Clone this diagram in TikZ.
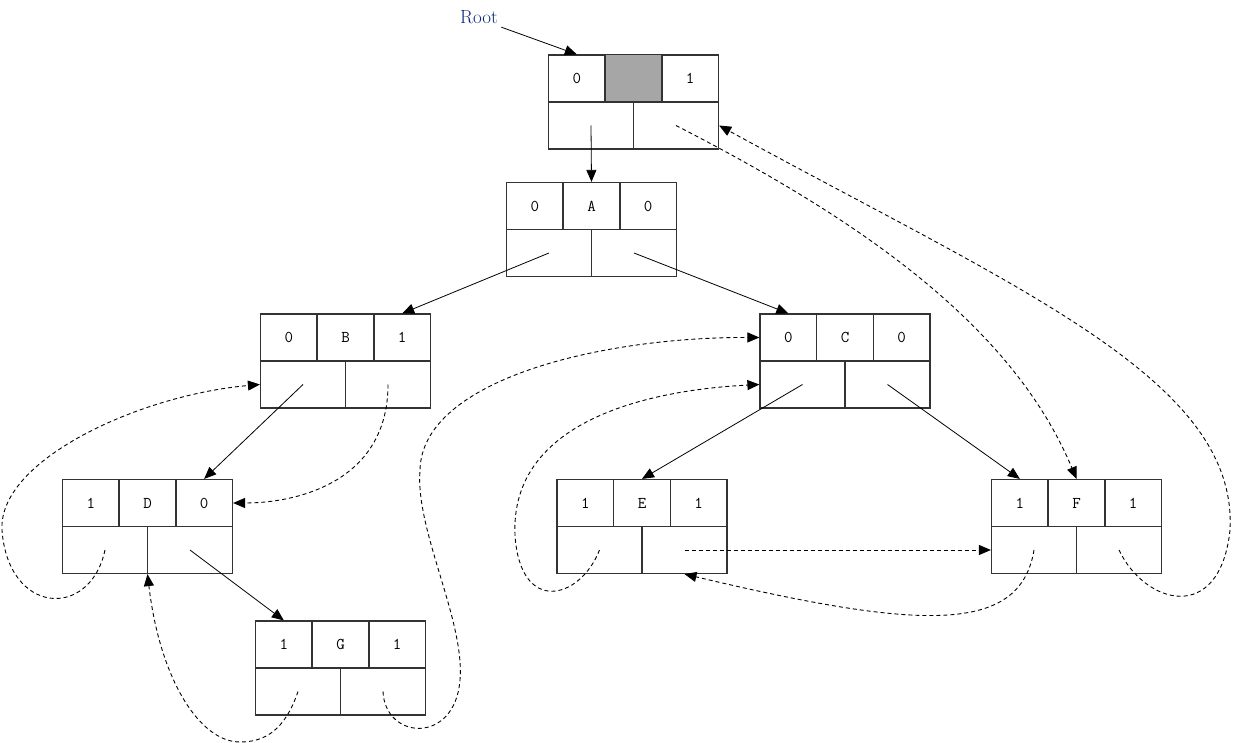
\documentclass[tikz,border=0pt]{standalone}
\usetikzlibrary{arrows.meta, calc}
\definecolor{rootblue}{RGB}{10,40,120}
\definecolor{shade}{HTML}{A6A6A6}
\tikzset{
    tbox/.style={draw=black!80, line width=1.2pt, rectangle, minimum width=170pt, minimum height=94pt, inner sep=0pt},
    cell/.style={draw=black!80, line width=1.2pt},
    tag/.style={font=\fontsize{16.5}{19}\selectfont\ttfamily},
    link/.style={-{Triangle[length=12pt,width=10pt]}, line width=0.8pt},
    thread/.style={link, line width=0.9pt, dash pattern=on 4pt off 3pt}
}
% threaded node: name, x, y, left tag, data, right tag
\newcommand{\tnode}[6]{%
  \node[tbox] (#1) at (#2,#3) {};
  \draw[cell] (#1.west) -- (#1.east)
    ($(#1.north west)!1/3!(#1.north east)$) -- ($(#1.west)!1/3!(#1.east)$)
    ($(#1.north west)!2/3!(#1.north east)$) -- ($(#1.west)!2/3!(#1.east)$)
    (#1.center) -- (#1.south);
  \node[tag] (#1-lt) at ($(#1)+(-56.67,-23.5)$) {#4};
  \node[tag] (#1-d) at ($(#1)+(0,-23.5)$) {#5};
  \node[tag] (#1-rt) at ($(#1)+(56.67,-23.5)$) {#6};
  \coordinate (#1-l) at ($(#1)+(-42.5,23.5)$);
  \coordinate (#1-r) at ($(#1)+(42.5,23.5)$);
}

\begin{document}
\begin{tikzpicture}[x=1pt, y=-1pt]
    \useasboundingbox (0,0) rectangle (1236,743);

    % head node
    \tnode{R}{633.5}{102}{0}{}{1}
    \filldraw[cell, fill=shade] ($(R.north west)!1/3!(R.north east)$) rectangle ($(R.west)!2/3!(R.east)$);
    \node[text=rootblue, font=\fontsize{19}{22}\selectfont] (rootlbl) at (479,17) {Root};

    \tnode{A}{591.5}{229.5}{0}{A}{0}
    \tnode{B}{345.5}{361}{0}{B}{1}
    \tnode{C}{845}{361}{0}{C}{0}
    \tnode{D}{147.5}{526.5}{1}{D}{0}
    \tnode{E}{642}{526.5}{1}{E}{1}
    \tnode{F}{1076.5}{526.5}{1}{F}{1}
    \tnode{G}{340.5}{668}{1}{G}{1}

    % child links
    \draw[link] (rootlbl.south east) -- (R-lt |- R.north);
    \draw[link] (R-l) -- (A.north);
    \draw[link] (A-l) -- (B-rt |- B.north);
    \draw[link] (A-r) -- (C-lt |- C.north);
    \draw[link] (B-l) -- (D-rt |- D.north);
    \draw[link] (C-l) -- (E.north);
    \draw[link] (C-r) -- (F-lt |- F.north);
    \draw[link] (D-r) -- (G-lt |- G.north);

    % threads
    \draw[thread] (R-r) .. controls (850,215) and (1010,320) .. (F.north);
    \draw[thread] (B-r) .. controls (388,480) and (300,503) .. (D.east |- D-rt);
    \draw[thread] (D-l) .. controls (90,620) and (8,615) .. (2,530)
        .. controls (-2,460) and (140,395) .. (B.west |- B-l);
    \draw[thread] (G-l) .. controls (285,730) and (265,742) .. (240,742)
        .. controls (200,742) and (160,680) .. (D.south);
    \draw[thread] (G-r) .. controls (385,740) and (455,745) .. (460,680)
        .. controls (465,620) and (415,530) .. (420,470)
        .. controls (422,380) and (600,337) .. (C.west |- C-lt);
    \draw[thread] (E-l) .. controls (580,600) and (520,615) .. (515,535)
        .. controls (510,420) and (650,390) .. (C.west |- C-l);
    \draw[thread] (E-r) -- (F.west |- F-l);
    \draw[thread] (F-l) .. controls (1020,635) and (920,630) .. (E-r |- E.south);
    \draw[thread] (F-r) .. controls (1145,605) and (1220,625) .. (1230,530)
        .. controls (1238,380) and (1020,290) .. (R.east |- R-r);
\end{tikzpicture}
\end{document}
